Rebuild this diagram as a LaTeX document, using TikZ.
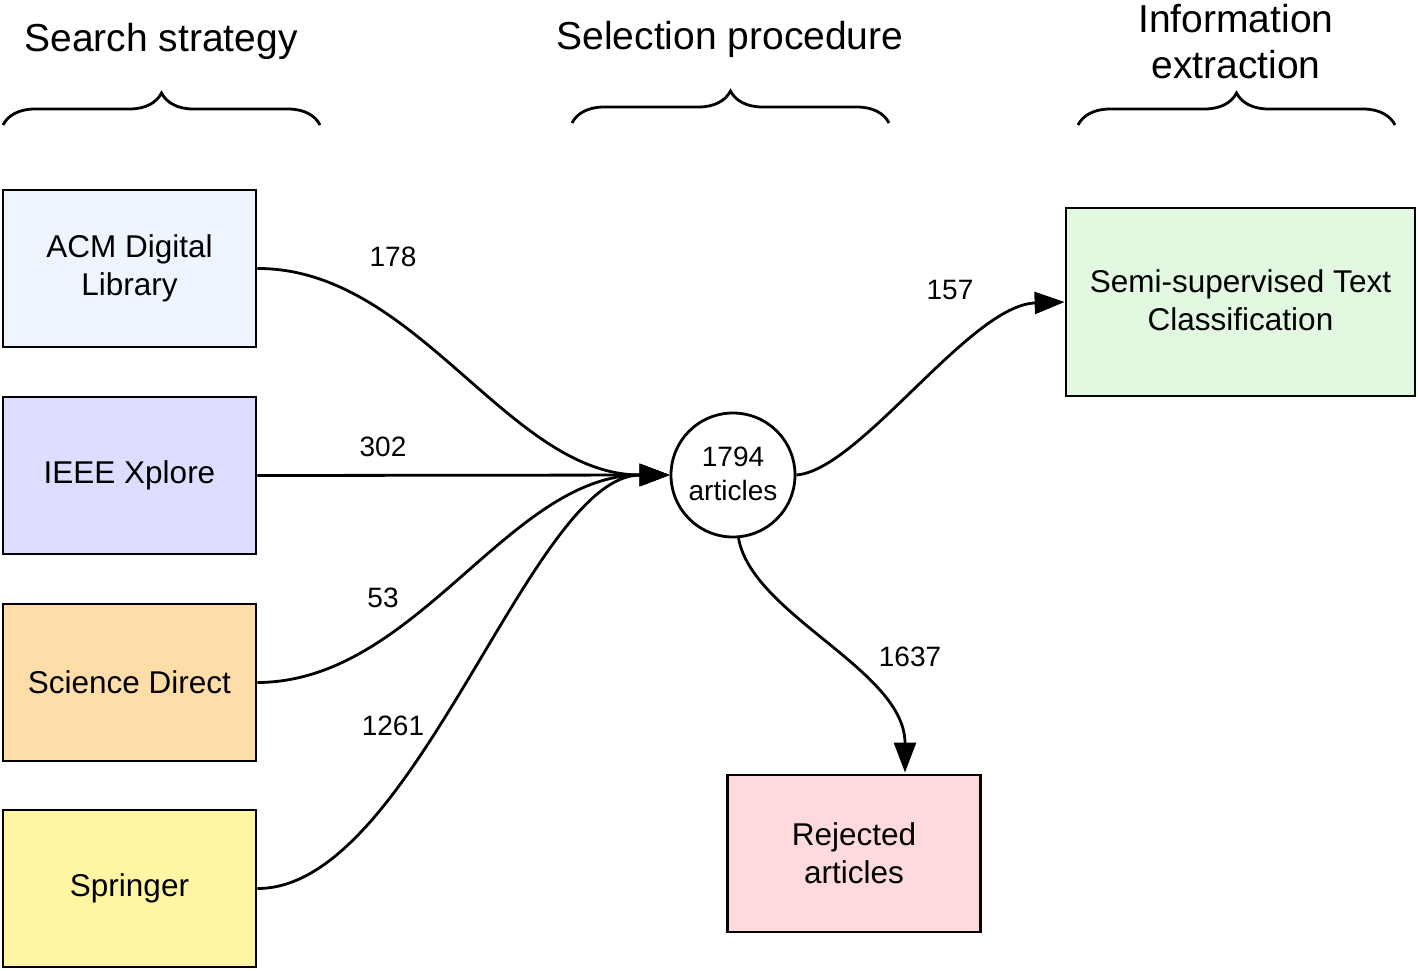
\documentclass[tikz,border=0pt]{standalone}
\usepackage{fontspec}
\setmainfont{Liberation Sans}
\usetikzlibrary{arrows.meta,decorations.pathreplacing}
\definecolor{acmc}{RGB}{238,245,255}
\definecolor{ieeec}{RGB}{221,221,255}
\definecolor{sdc}{RGB}{254,221,168}
\definecolor{sprc}{RGB}{255,246,163}
\definecolor{semic}{RGB}{226,248,224}
\definecolor{rejc}{RGB}{255,218,220}
\begin{document}
\begin{tikzpicture}[x=1pt,y=-1pt,
  boxnode/.style={draw=black, line width=2.8pt, minimum width=253pt, minimum height=157pt,
    align=center, inner sep=0pt, font=\fontsize{31.5}{38}\selectfont},
  titlenode/.style={align=center, inner sep=0pt, font=\fontsize{39}{46}\selectfont},
  numlabel/.style={inner sep=0pt, font=\fontsize{28}{34}\selectfont},
  flow/.style={line width=2.8pt, -{Triangle[length=30pt,width=22pt]}},
  bracepath/.style={line width=2.8pt, decorate, decoration={brace, amplitude=32pt}}
]
\useasboundingbox (0,0) rectangle (1418,971);

% titles
\node[titlenode] (t1) at (161,41) {Search strategy};
\node[titlenode] (t2) at (730,39) {Selection procedure};
\node[titlenode] (t3) at (1236,42) {Information\\extraction};

% braces
\draw[bracepath] (3,125) -- (320,125);
\draw[bracepath] (572,123) -- (889,123);
\draw[bracepath] (1078,125) -- (1395,125);

% source boxes
\node[boxnode, fill=acmc] (acm) at (129.5,268.5) {ACM Digital\\Library\vphantom{g}};
\node[boxnode, fill=ieeec] (ieee) at (129.5,475.5) {IEEE Xplore};
\node[boxnode, fill=sdc] (sd) at (129.5,682.5) {Science Direct};
\node[boxnode, fill=sprc] (spr) at (129.5,888.5) {Springer};

% circle
\node[draw=black, line width=2.8pt, circle, minimum size=124pt, inner sep=0pt, align=center,
  font=\fontsize{28}{34}\selectfont] (circ) at (733,475) {\raisebox{3pt}{1794}\\\raisebox{3pt}{articles}};

% target boxes
\node[boxnode, fill=semic, minimum width=349pt, minimum height=188pt] (semi) at (1240.5,302) {\raisebox{4pt}{Semi-supervised Text}\\\raisebox{4pt}{Classification}};
\node[boxnode, fill=rejc] (rej) at (854,853.5) {Rejected\\articles};

% connectors
\draw[flow] (acm.east) .. controls (417,268) and (508,475) .. (circ.west);
\draw[flow] (ieee.east) -- (circ.west);
\draw[flow] (sd.east) .. controls (417,682) and (508,475) .. (circ.west);
\draw[flow] (spr.east) .. controls (415,889) and (530,475) .. (circ.west);
\draw[flow] (circ.east) .. controls (860,470) and (970,305) .. (semi.west);
\draw[flow] (circ.-85) .. controls (752,615) and (905,670) .. (905,772.5);

% labels
\node[numlabel] (l178) at (393,257) {178};
\node[numlabel] (l302) at (383,447) {302};
\node[numlabel] (l53) at (383,598) {53};
\node[numlabel] (l1261) at (393,726) {1261};
\node[numlabel] (l157) at (950,290) {157};
\node[numlabel] (l1637) at (910,657) {1637};
\end{tikzpicture}
\end{document}
